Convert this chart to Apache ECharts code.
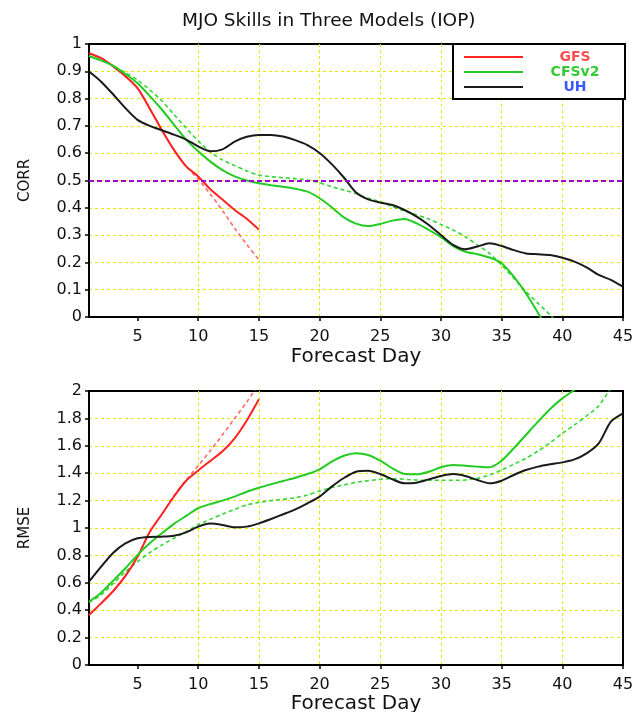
<!DOCTYPE html>
<html>
<head>
<meta charset="utf-8">
<title>MJO Skills in Three Models (IOP)</title>
<script src="https://cdn.jsdelivr.net/npm/echarts@6/dist/echarts.min.js"></script>
<style>
  html, body { margin: 0; padding: 0; background: #fff; }
  #chart { width: 634px; height: 712px; }
</style>
</head>
<body>
<div id="chart"></div>
<script>
// Forecast lead time (days)
const days = [1, 2, 3, 4, 5, 6, 7, 8, 9, 10, 11, 12, 13, 14, 15, 16, 17, 18, 19, 20,
  21, 22, 23, 24, 25, 26, 27, 28, 29, 30, 31, 32, 33, 34, 35, 36, 37, 38, 39, 40,
  41, 42, 43, 44, 45];
const dayTicks = [5, 10, 15, 20, 25, 30, 35, 40, 45];

// Bivariate correlation (CORR)
const gfsCorr = [0.966, 0.948, 0.918, 0.882, 0.838, 0.764, 0.685, 0.612, 0.552, 0.515,
  0.468, 0.43, 0.392, 0.36, 0.32];
const gfsCorrDash = [0.966, 0.948, 0.918, 0.882, 0.838, 0.764, 0.685, 0.612, 0.552, 0.505,
  0.45, 0.39, 0.325, 0.265, 0.21];
const cfsCorr = [0.956, 0.94, 0.92, 0.89, 0.856, 0.81, 0.76, 0.705, 0.65, 0.607,
  0.569, 0.538, 0.515, 0.5, 0.49, 0.483, 0.477, 0.47, 0.459, 0.435,
  0.402, 0.365, 0.342, 0.333, 0.341, 0.353, 0.359, 0.343, 0.319, 0.292,
  0.26, 0.239, 0.23, 0.218, 0.197, 0.148, 0.087, 0.015, -0.06];
const cfsCorrDash = [0.956, 0.94, 0.92, 0.895, 0.868, 0.832, 0.792, 0.742, 0.692, 0.645,
  0.605, 0.575, 0.555, 0.535, 0.52, 0.514, 0.51, 0.507, 0.502, 0.492,
  0.477, 0.465, 0.452, 0.435, 0.422, 0.404, 0.388, 0.374, 0.359, 0.339,
  0.319, 0.294, 0.264, 0.233, 0.19, 0.142, 0.093, 0.05, 0.007, -0.04];
const uhCorr = [0.899, 0.862, 0.815, 0.765, 0.722, 0.7, 0.684, 0.668, 0.65, 0.625,
  0.607, 0.614, 0.642, 0.66, 0.667, 0.667, 0.661, 0.648, 0.63, 0.601,
  0.56, 0.511, 0.456, 0.431, 0.419, 0.41, 0.392, 0.368, 0.337, 0.3,
  0.264, 0.248, 0.258, 0.27, 0.26, 0.245, 0.233, 0.23, 0.227, 0.217,
  0.203, 0.182, 0.154, 0.136, 0.111];
const corrSkillLevel = 0.5;

// Root-mean-square error (RMSE)
const gfsRmse = [0.365, 0.45, 0.54, 0.65, 0.79, 0.97, 1.1, 1.23, 1.345, 1.42,
  1.49, 1.56, 1.655, 1.785, 1.94];
const gfsRmseDash = [0.365, 0.45, 0.54, 0.65, 0.79, 0.97, 1.1, 1.235, 1.35, 1.455,
  1.565, 1.68, 1.8, 1.92, 2.05];
const cfsRmse = [0.462, 0.528, 0.616, 0.706, 0.803, 0.888, 0.961, 1.03, 1.088, 1.144,
  1.175, 1.2, 1.229, 1.265, 1.294, 1.319, 1.343, 1.367, 1.394, 1.428,
  1.484, 1.527, 1.545, 1.533, 1.491, 1.436, 1.394, 1.392, 1.411, 1.443,
  1.46, 1.455, 1.448, 1.443, 1.491, 1.582, 1.679, 1.776, 1.869, 1.946,
  2.01, 2.09];
const cfsRmseDash = [0.457, 0.511, 0.596, 0.681, 0.754, 0.82, 0.876, 0.925, 0.973, 1.025,
  1.063, 1.102, 1.136, 1.168, 1.187, 1.2, 1.209, 1.221, 1.241, 1.27,
  1.295, 1.314, 1.333, 1.345, 1.355, 1.36, 1.355, 1.35, 1.348, 1.348,
  1.348, 1.35, 1.363, 1.387, 1.423, 1.465, 1.509, 1.562, 1.623, 1.691,
  1.752, 1.818, 1.891, 2.02, 2.12];
const uhRmse = [0.608, 0.718, 0.82, 0.888, 0.925, 0.935, 0.937, 0.944, 0.968, 1.01,
  1.032, 1.022, 1.005, 1.01, 1.034, 1.066, 1.1, 1.136, 1.18, 1.229,
  1.302, 1.365, 1.411, 1.418, 1.394, 1.355, 1.326, 1.331, 1.355, 1.38,
  1.394, 1.38, 1.35, 1.326, 1.345, 1.387, 1.423, 1.448, 1.465, 1.479,
  1.501, 1.545, 1.618, 1.776, 1.837];

const models = ['GFS', 'CFSv2', 'UH'];
const lineColors = { GFS: '#ff2222', CFSv2: '#22cc22', UH: '#1a1a1a' };
const dashColors = { GFS: '#ff6a6a', CFSv2: '#33d633', UH: '#1a1a1a' };
const legendTextColors = { GFS: '#ff4f4f', CFSv2: '#33cc33', UH: '#3a5cff' };
const legendKeys = { GFS: 'gfs', CFSv2: 'cfs', UH: 'uh' };

const FONT = 'DejaVu Sans';
const GRID_LINE = { color: '#e6e600', width: 1, type: [3, 3] };

function pairs(values) {
  return values.map((v, i) => [days[i], v]);
}

function curve(name, values, grid, dashed) {
  return {
    name: name,
    type: 'line',
    xAxisIndex: grid,
    yAxisIndex: grid,
    data: pairs(values),
    symbol: 'none',
    smooth: 0.25,
    clip: true,
    z: dashed ? 3 : 4,
    lineStyle: dashed
      ? { color: dashColors[name], width: 1.6, type: [4, 3] }
      : { color: lineColors[name], width: 2 },
    itemStyle: { color: dashed ? dashColors[name] : lineColors[name] },
    emphasis: { disabled: true }
  };
}

function xAxisFor(grid, nameGap) {
  return {
    type: 'value',
    gridIndex: grid,
    min: 1,
    max: 45,
    name: 'Forecast Day',
    nameLocation: 'middle',
    nameGap: nameGap,
    nameTextStyle: { fontFamily: FONT, fontSize: 20, color: '#111' },
    axisLine: { show: true, lineStyle: { color: '#000', width: 2 } },
    axisTick: { show: true, length: 4, customValues: dayTicks, lineStyle: { color: '#000', width: 1.5 } },
    axisLabel: { customValues: dayTicks, margin: 12, fontFamily: FONT, fontSize: 16, color: '#111' },
    splitLine: { show: true, showMinLine: false, showMaxLine: false, lineStyle: GRID_LINE }
  };
}

function yAxisFor(grid, name, max, step) {
  return {
    type: 'value',
    gridIndex: grid,
    min: 0,
    max: max,
    interval: step,
    name: name,
    nameLocation: 'middle',
    nameRotate: 90,
    nameGap: 56,
    nameTextStyle: { fontFamily: FONT, fontSize: 15, color: '#111' },
    axisLine: { show: true, lineStyle: { color: '#000', width: 2 } },
    axisTick: { show: true, length: 4, lineStyle: { color: '#000', width: 1.5 } },
    axisLabel: { margin: 7, fontFamily: FONT, fontSize: 16, color: '#111' },
    splitLine: { show: true, showMinLine: false, showMaxLine: false, lineStyle: GRID_LINE }
  };
}

const series = [
  curve('GFS', gfsCorr, 0, false),
  curve('CFSv2', cfsCorr, 0, false),
  curve('UH', uhCorr, 0, false),
  curve('GFS', gfsCorrDash, 0, true),
  curve('CFSv2', cfsCorrDash, 0, true),
  curve('GFS', gfsRmse, 1, false),
  curve('CFSv2', cfsRmse, 1, false),
  curve('UH', uhRmse, 1, false),
  curve('GFS', gfsRmseDash, 1, true),
  curve('CFSv2', cfsRmseDash, 1, true),
  {
    name: 'skill level',
    type: 'line',
    xAxisIndex: 0,
    yAxisIndex: 0,
    data: [],
    markLine: {
      silent: true,
      symbol: 'none',
      label: { show: false },
      lineStyle: { color: '#a000d0', width: 2, type: [5, 3] },
      data: [{ yAxis: corrSkillLevel }]
    }
  }
];

const rich = {};
models.forEach(m => {
  rich[legendKeys[m]] = {
    color: legendTextColors[m],
    align: 'center',
    fontFamily: FONT,
    fontSize: 14,
    fontWeight: 'bold'
  };
});

const gridBase = {
  left: 89, right: 11, show: true,
  borderColor: '#000', borderWidth: 2, backgroundColor: '#fff',
  outerBoundsMode: 'none', containLabel: false
};

const option = {
  backgroundColor: '#fff',
  animation: false,
  title: {
    text: 'MJO Skills in Three Models (IOP)',
    left: 182,
    top: 12,
    padding: 0,
    textStyle: { fontFamily: FONT, fontSize: 18.5, fontWeight: 'normal', color: '#111' }
  },
  legend: {
    orient: 'vertical',
    left: 453,
    top: 44,
    padding: [6, 3, 5, 10],
    itemWidth: 59,
    itemHeight: 14,
    itemGap: 1,
    borderColor: '#000',
    borderWidth: 2,
    backgroundColor: '#fff',
    selectedMode: false,
    itemStyle: { opacity: 0 },
    data: models,
    formatter: name => '{' + legendKeys[name] + '|' + name + '}',
    textStyle: { width: 94, fontFamily: FONT, fontSize: 14, fontWeight: 'bold', lineHeight: 14, rich: rich },
    z: 10
  },
  grid: [
    Object.assign({ top: 44, height: 273 }, gridBase),
    Object.assign({ top: 391, height: 274 }, gridBase)
  ],
  xAxis: [xAxisFor(0, 30), xAxisFor(1, 26)],
  yAxis: [yAxisFor(0, 'CORR', 1, 0.1), yAxisFor(1, 'RMSE', 2, 0.2)],
  series: series
};

const chart = echarts.init(document.getElementById('chart'), null, { renderer: 'canvas' });
chart.setOption(option);
</script>
</body>
</html>
